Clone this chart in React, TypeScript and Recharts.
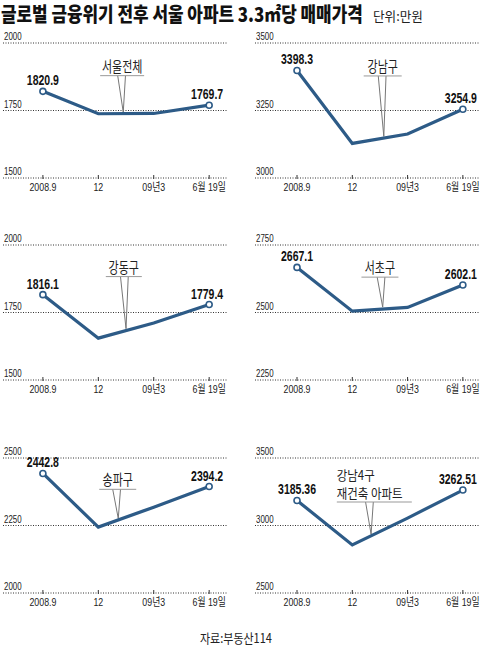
import React, { useLayoutEffect, useRef, useState } from "react"
import { LineChart, Line, XAxis, YAxis, CartesianGrid, LabelList, ReferenceLine, ReferenceDot } from "recharts"

const periods = ["2008.9", "12", "09년3", "6월 19일"]

const seoulAll = [1820.9, 1738, 1739, 1769.7]
const gangnam = [3398.3, 3128, 3163, 3254.9]
const gangdong = [1816.1, 1655, 1711, 1779.4]
const seocho = [2667.1, 2505, 2519, 2602.1]
const songpa = [2442.8, 2244, 2318, 2394.2]
const rebuild = [3185.36, 2856, 3055, 3262.51]

const seoulAllTicks = [1500, 1750, 2000]
const gangnamTicks = [3000, 3250, 3500]
const gangdongTicks = [1500, 1750, 2000]
const seochoTicks = [2250, 2500, 2750]
const songpaTicks = [2000, 2250, 2500]
const rebuildTicks = [2500, 3000, 3500]

const valueLabels = {
  seoulAll: ["1820.9", "1769.7"],
  gangnam: ["3398.3", "3254.9"],
  gangdong: ["1816.1", "1779.4"],
  seocho: ["2667.1", "2602.1"],
  songpa: ["2442.8", "2394.2"],
  rebuild: ["3185.36", "3262.51"],
}

const LINE = "#2d5b87"
const NUM_FONT = "'Liberation Sans', Arial, 'Noto Sans CJK KR', sans-serif"
const KR_FONT = "'Noto Sans CJK KR', 'Noto Sans', sans-serif"

const PLOT_H = 135
const TOP_M = 14
const XAXIS_H = 22
const CHART_H = TOP_M + PLOT_H + XAXIS_H

type Note = {
  lines: string[]
  at: number // x of text anchor
  barY: number
  barW: number
  tipX: number
  tipY: number
  align?: "middle" | "start"
  size?: number
  squeeze?: number
}

type Panel = {
  values: number[]
  ticks: number[]
  labels: string[]
  note: Note
  col: 0 | 1
  plotTop: number
  lastDx?: number
}

const panels: Panel[] = [
  { values: seoulAll, ticks: seoulAllTicks, labels: valueLabels.seoulAll, col: 0, plotTop: 43,
    note: { lines: ["서울전체"], at: 1.43, barY: 1879, barW: 44, tipX: 1.45, tipY: 1744 } },
  { values: gangnam, ticks: gangnamTicks, labels: valueLabels.gangnam, col: 1, plotTop: 43,
    note: { lines: ["강남구"], at: 1.55, barY: 3378, barW: 38, tipX: 1.57, tipY: 3154 } },
  { values: gangdong, ticks: gangdongTicks, labels: valueLabels.gangdong, col: 0, plotTop: 245,
    note: { lines: ["강동구"], at: 1.46, barY: 1883, barW: 36, tipX: 1.5, tipY: 1690 } },
  { values: seocho, ticks: seochoTicks, labels: valueLabels.seocho, col: 1, plotTop: 245,
    note: { lines: ["서초구"], at: 1.5, barY: 2631, barW: 37, tipX: 1.55, tipY: 2520 } },
  { values: songpa, ticks: songpaTicks, labels: valueLabels.songpa, col: 0, plotTop: 458,
    note: { lines: ["송파구"], at: 1.35, barY: 2384, barW: 37, tipX: 1.36, tipY: 2276 } },
  { values: rebuild, ticks: rebuildTicks, labels: valueLabels.rebuild, col: 1, plotTop: 458, lastDx: -5,
    note: { lines: ["강남4구", "재건축 아파트"], at: 0.72, barY: 3174, barW: 75, tipX: 1.34, tipY: 2936,
      align: "start", size: 13, squeeze: 0.88 } },
]

const colSetup = [
  { left: 0, margin: { top: TOP_M, right: 12, left: 2, bottom: 0 }, domain: [-0.72, 3.34] },
  { left: 240, margin: { top: TOP_M, right: 0, left: 14, bottom: 0 }, domain: [-0.76, 3.31] },
]

// squeezes a text horizontally so it spans exactly `width` pixels
function FitText({ x, y, width, children, ...rest }: any) {
  const ref = useRef<SVGTextElement>(null)
  const [k, setK] = useState(1)
  useLayoutEffect(() => {
    if (ref.current) {
      const w = ref.current.getComputedTextLength()
      if (w > 0) setK(width / w)
    }
  }, [width, children])
  return (
    <text ref={ref} transform={`translate(${x},${y}) scale(${k},1)`} {...rest}>
      {children}
    </text>
  )
}

function YTick(props: any) {
  const { x, y, payload } = props
  return (
    <text transform={`translate(${x + 1},${y - 3}) scale(0.72,1)`} fontSize={11} fontFamily={NUM_FONT} fill="#222">
      {payload.value}
    </text>
  )
}

function XTick(props: any) {
  const { x, y, payload } = props
  return (
    <g>
      <line x1={x} x2={x} y1={y - 3} y2={y + 1} stroke="#333" strokeWidth={1} />
      <text transform={`translate(${x},${y + 13}) scale(0.8,1)`} textAnchor="middle" fontSize={11} fontFamily={NUM_FONT} fill="#222">
        {periods[payload.value]}
      </text>
    </g>
  )
}

function PanelChart({ p }: { p: Panel }) {
  const setup = colSetup[p.col]
  const data = periods.map((label, i) => ({ i, label, v: p.values[i] }))
  const n = p.note
  const size = n.size ?? 14.5
  const squeeze = n.squeeze ?? 0.76

  const renderDot = (props: any) => {
    const { cx, cy, index } = props
    if (index !== 0 && index !== periods.length - 1) return <g key={`d${index}`} />
    return <circle key={`d${index}`} cx={cx} cy={cy} r={3} fill="#fff" stroke={LINE} strokeWidth={1.6} />
  }

  const renderValue = (props: any) => {
    const { x, y, index } = props
    if (index !== 0 && index !== periods.length - 1) return null
    const txt = index === 0 ? p.labels[0] : p.labels[1]
    const dx = index === 0 ? 0 : p.lastDx ?? -2
    return (
      <text transform={`translate(${x + dx},${y - 6}) scale(0.7,1)`} textAnchor="middle" fontSize={15}
        fontWeight={700} fontFamily={NUM_FONT} fill="#111">
        {txt}
      </text>
    )
  }

  const noteShape = (props: any) => {
    const { cx, cy } = props
    const x0 = n.align === "start" ? cx : cx - n.barW / 2
    const lineGap = size + 5
    return (
      <g>
        {n.lines.map((t, k) => (
          <text key={k} transform={`translate(${cx},${cy - 4 - (n.lines.length - 1 - k) * lineGap}) scale(${squeeze},1)`}
            textAnchor={n.align === "start" ? "start" : "middle"} fontSize={size} fontFamily={KR_FONT} fill="#222">
            {t}
          </text>
        ))}
        <line x1={x0} x2={x0 + n.barW} y1={cy} y2={cy} stroke="#999" strokeWidth={1} />
      </g>
    )
  }

  return (
    <div style={{ position: "absolute", left: setup.left, top: p.plotTop - TOP_M }}>
      <LineChart width={240} height={CHART_H} data={data} margin={setup.margin} style={{ overflow: "visible" }}>
        <CartesianGrid vertical={false} stroke="#333" strokeDasharray="1 1.5" />
        <XAxis dataKey="i" type="number" domain={setup.domain} allowDataOverflow ticks={[0, 1, 2, 3]}
          height={XAXIS_H} axisLine={false} tickLine={false} tickSize={0} tickMargin={0} tick={<XTick />} interval={0} />
        <YAxis type="number" domain={[p.ticks[0], p.ticks[2]]} ticks={p.ticks} width={1} axisLine={false}
          tickLine={false} tickSize={0} tickMargin={0} tick={<YTick />} interval={0} />
        <ReferenceLine segment={[{ x: n.tipX - 0.1, y: n.barY }, { x: n.tipX, y: n.tipY }]} stroke="#777" strokeWidth={1} />
        <ReferenceLine segment={[{ x: n.tipX + 0.04, y: n.barY }, { x: n.tipX, y: n.tipY }]} stroke="#777" strokeWidth={1} />
        <ReferenceDot x={n.at} y={n.barY} r={0} shape={noteShape} />
        <Line type="linear" dataKey="v" stroke={LINE} strokeWidth={3.2} dot={renderDot} activeDot={false}
          isAnimationActive={false}>
          <LabelList dataKey="v" content={renderValue} />
        </Line>
      </LineChart>
    </div>
  )
}

export default function App() {
  return (
    <div style={{ position: "absolute", left: 0, top: 0, width: 480, height: 651, background: "#fff", overflow: "hidden" }}>
      <svg width={480} height={651} style={{ position: "absolute", left: 0, top: 0 }}>
        <FitText x={1} y={22} width={362} fontSize={20} fontWeight={900} fontFamily={KR_FONT} fill="#111">
          글로벌 금융위기 전후 서울 아파트 3.3㎡당 매매가격
        </FitText>
        <FitText x={373} y={21} width={50} fontSize={13} fontFamily={KR_FONT} fill="#222">
          단위:만원
        </FitText>
        <FitText x={200} y={643} width={72} fontSize={13} fontFamily={KR_FONT} fill="#222">
          자료:부동산114
        </FitText>
      </svg>
      {panels.map((p, k) => (
        <PanelChart key={k} p={p} />
      ))}
    </div>
  )
}
